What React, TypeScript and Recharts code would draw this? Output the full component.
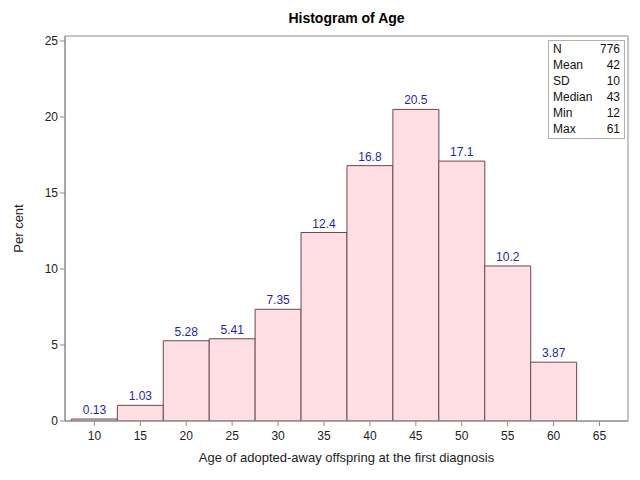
import {
  Bar,
  ComposedChart,
  LabelList,
  ReferenceArea,
  XAxis,
  YAxis,
} from "recharts";

const midpoints = [10, 15, 20, 25, 30, 35, 40, 45, 50, 55, 60];
const percents = [0.13, 1.03, 5.28, 5.41, 7.35, 12.4, 16.8, 20.5, 17.1, 10.2, 3.87];
const xTicks = [10, 15, 20, 25, 30, 35, 40, 45, 50, 55, 60, 65];
const yTicks = [0, 5, 10, 15, 20, 25];
const statLabels = ["N", "Mean", "SD", "Median", "Min", "Max"];
const statValues = ["776", "42", "10", "43", "12", "61"];

const X_DOMAIN: [number, number] = [6.8, 68.1];
const Y_DOMAIN: [number, number] = [0, 25.33];

const FONT = "'Liberation Sans', Arial, sans-serif";
const AXIS_GRAY = "#8c8c8c";

const data = midpoints.map((m, i) => ({ mid: m, pct: percents[i] }));

function fmt(v: unknown) {
  return String(v);
}

export default function App() {
  return (
    <div
      style={{
        position: "absolute",
        left: 0,
        top: 0,
        width: 640,
        height: 480,
        background: "#fff",
        fontFamily: FONT,
      }}
    >
      <div
        style={{
          position: "absolute",
          left: 65,
          width: 563,
          top: 10,
          textAlign: "center",
          fontWeight: "bold",
          fontSize: 14,
          color: "#000",
        }}
      >
        Histogram of Age
      </div>
      <ComposedChart
        width={640}
        height={480}
        data={data}
        margin={{ top: 36, right: 12, left: 0, bottom: 0 }}
        barCategoryGap={0}
        barGap={0}
      >
        <XAxis
          dataKey="mid"
          type="number"
          domain={X_DOMAIN}
          ticks={xTicks}
          allowDataOverflow
          height={59}
          stroke={AXIS_GRAY}
          tickSize={5}
          tick={{ fill: "#222", fontSize: 12, fontFamily: FONT, dy: 3 }}
          label={{
            value: "Age of adopted-away offspring at the first diagnosis",
            position: "insideBottom",
            offset: 18,
            fill: "#222",
            fontSize: 13,
            fontFamily: FONT,
          }}
        />
        <YAxis
          type="number"
          domain={Y_DOMAIN}
          ticks={yTicks}
          allowDataOverflow
          width={65}
          stroke={AXIS_GRAY}
          tickSize={5}
          tick={{ fill: "#222", fontSize: 12, fontFamily: FONT }}
          label={{
            value: "Per cent",
            angle: -90,
            position: "insideLeft",
            offset: 18,
            fill: "#222",
            fontSize: 13,
            fontFamily: FONT,
            style: { textAnchor: "middle" },
          }}
        />
        <ReferenceArea
          x1={X_DOMAIN[0]}
          x2={X_DOMAIN[1]}
          y1={Y_DOMAIN[0]}
          y2={Y_DOMAIN[1]}
          fill="none"
          stroke={AXIS_GRAY}
          strokeWidth={1}
        />
        <Bar
          dataKey="pct"
          fill="#ffdfe3"
          stroke="#6e4450"
          strokeWidth={1}
          isAnimationActive={false}
        >
          <LabelList
            dataKey="pct"
            position="top"
            offset={5}
            formatter={fmt}
            fill="#1f1fb4"
            fontSize={12}
            fontFamily={FONT}
          />
        </Bar>
      </ComposedChart>
      <div
        style={{
          position: "absolute",
          left: 548,
          top: 40,
          width: 75,
          border: "1px solid #b0b0b0",
          padding: "0 0 1px 0",
          fontSize: 12,
          color: "#111",
          lineHeight: "16px",
        }}
      >
        {statLabels.map((s, i) => (
          <div key={s} style={{ display: "flex", justifyContent: "space-between", padding: "0 4px" }}>
            <span>{s}</span>
            <span>{statValues[i]}</span>
          </div>
        ))}
      </div>
    </div>
  );
}
